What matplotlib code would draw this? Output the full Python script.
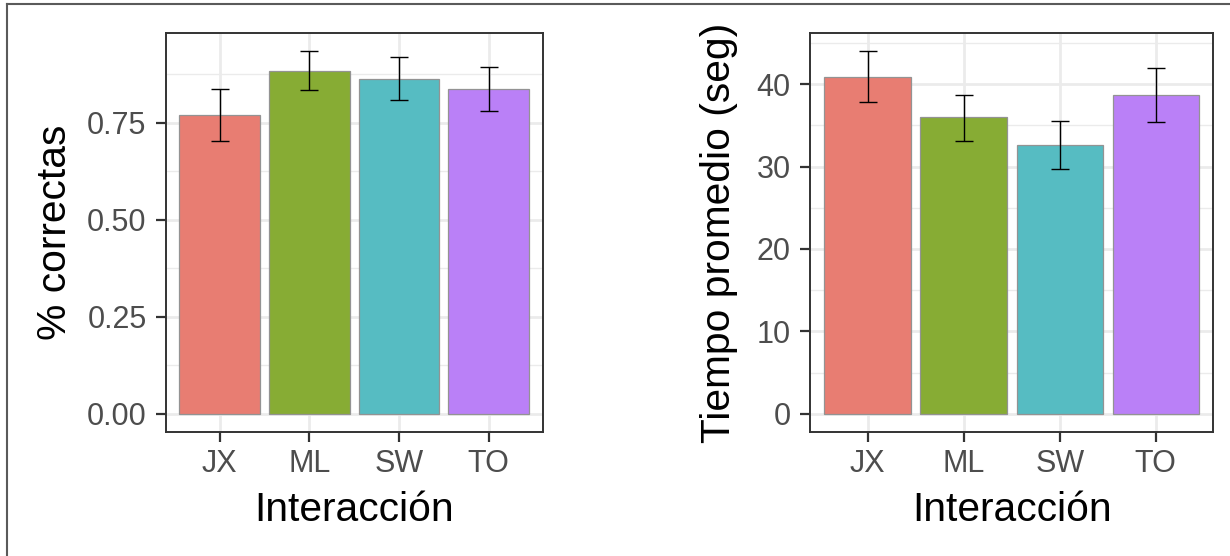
import matplotlib
matplotlib.use("Agg")
import matplotlib.pyplot as plt
from matplotlib.lines import Line2D

plt.rcParams["font.family"] = ["Liberation Sans", "DejaVu Sans"]

# datos
interaccion = ["JX", "ML", "SW", "TO"]
colores = ["#E87D72", "#87AC34", "#56BCC2", "#BA80F7"]

correctas = [0.771, 0.884, 0.864, 0.838]
correctas_min = [0.704, 0.835, 0.808, 0.780]
correctas_max = [0.837, 0.935, 0.920, 0.895]

tiempo = [40.9, 36.0, 32.6, 38.7]
tiempo_min = [37.8, 33.1, 29.7, 35.4]
tiempo_max = [44.0, 38.7, 35.5, 42.0]

W, H = 1230, 556
fig = plt.figure(figsize=(W / 100, H / 100), dpi=100)


def panel(rect, vals, lo, hi, ticks, ticklabels, minor, ylabel, ylab_x):
    ax = fig.add_axes(rect)
    x = list(range(1, len(vals) + 1))
    ax.bar(x, vals, width=0.9, color=colores, edgecolor="#939393", linewidth=0.9, zorder=3)
    err = [[v - l for v, l in zip(vals, lo)], [h - v for v, h in zip(vals, hi)]]
    ax.errorbar(x, vals, yerr=err, fmt="none", ecolor="black", elinewidth=1.0,
                capsize=6.2, capthick=1.0, zorder=4)
    top = max(hi)
    ax.set_ylim(-0.05 * top, top * 1.05)
    ax.set_xlim(0.4, 4.6)
    ax.set_xticks(x)
    ax.set_xticklabels(interaccion)
    ax.set_yticks(ticks)
    ax.set_yticklabels(ticklabels)
    ax.set_yticks(minor, minor=True)
    ax.grid(True, which="major", color="#EBEBEB", linewidth=2.0, zorder=0)
    ax.grid(True, which="minor", axis="y", color="#EBEBEB", linewidth=1.0, zorder=0)
    ax.set_axisbelow(True)
    for s in ax.spines.values():
        s.set_color("#333333")
        s.set_linewidth(1.4)
    ax.tick_params(axis="both", which="major", length=7.5, width=1.6, color="#333333",
                   labelcolor="#4D4D4D", labelsize=22)
    ax.tick_params(axis="x", pad=5)
    ax.tick_params(axis="y", pad=6.5)
    ax.tick_params(which="minor", length=0)
    ax.set_xlabel("Interacción", fontsize=29.3)
    ax.set_ylabel(ylabel, fontsize=29.3)
    ax.xaxis.set_label_coords(0.5, -0.148)
    ax.yaxis.set_label_coords(ylab_x, 0.5)
    return ax


b = (H - 432) / H
h = (432 - 33) / H
panel([166 / W, b, 376.5 / W, h], correctas, correctas_min, correctas_max,
      [0, 0.25, 0.5, 0.75], ["0.00", "0.25", "0.50", "0.75"],
      [0.125, 0.375, 0.625, 0.875], "% correctas", -0.245)
panel([810 / W, b, 403.4 / W, h], tiempo, tiempo_min, tiempo_max,
      [0, 10, 20, 30, 40], ["0", "10", "20", "30", "40"],
      [5, 15, 25, 35, 45], "Tiempo promedio (seg)", -0.178)

# marco exterior
fig.add_artist(Line2D([7 / W, 7 / W], [0, 1 - 3.5 / H], transform=fig.transFigure,
                      color="#5A5A5A", linewidth=1.5))
fig.add_artist(Line2D([7 / W, 1], [1 - 3.5 / H, 1 - 3.5 / H], transform=fig.transFigure,
                      color="#5A5A5A", linewidth=1.5))

fig.savefig("out.png", dpi=100)
